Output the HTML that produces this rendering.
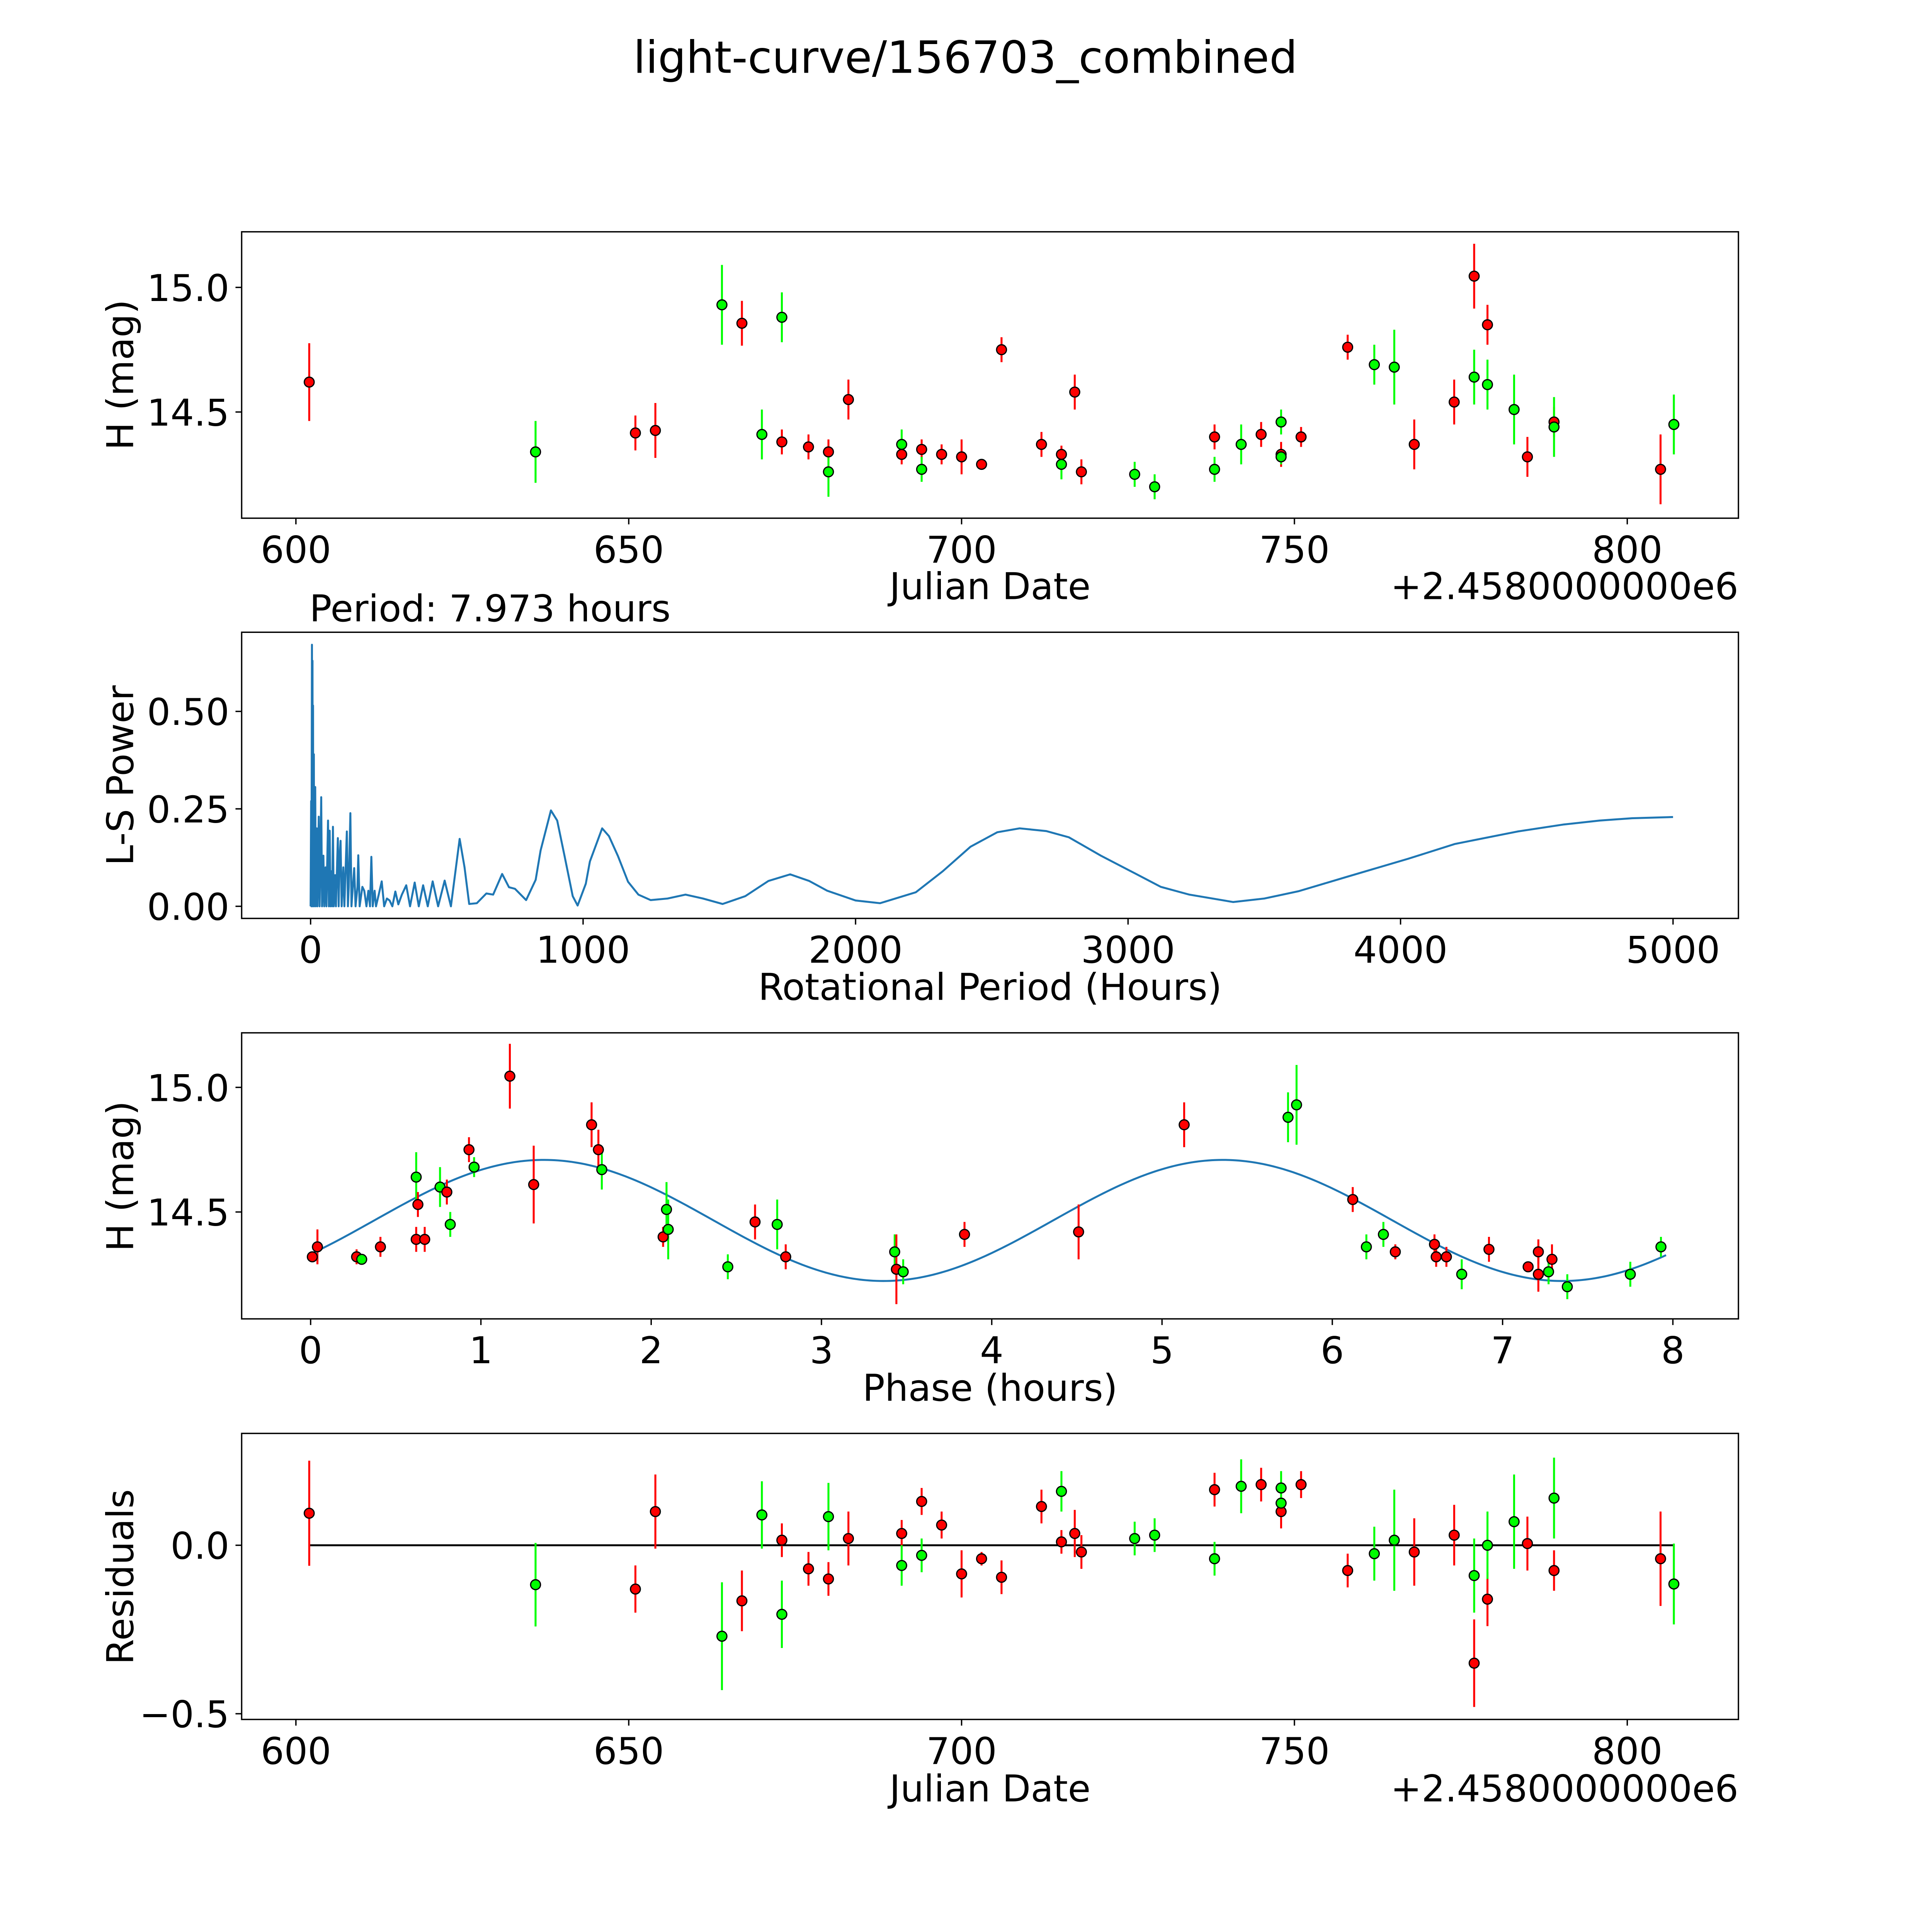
<!DOCTYPE html>
<html><head><meta charset="utf-8"><style>
html,body{margin:0;padding:0;background:#fff;overflow:hidden;width:100vw;height:100vh}
svg{display:block;width:100vw;height:100vh}
text{font-family:"DejaVu Sans","Liberation Sans",sans-serif;fill:#000}
</style></head><body>
<svg id="fig" xmlns="http://www.w3.org/2000/svg" viewBox="0 0 1567 1567" preserveAspectRatio="none">
<rect x="0" y="0" width="1567" height="1567" fill="#fff"/>
<text x="783" y="59" font-size="36" text-anchor="middle">light-curve/156703_combined</text>
</svg>
<script>
// ---- Panel 1 / 4 data (Julian Date offset, magnitude, error, filter colour, residual) ----
const jd   = [602,636,651,654,664,667,670,673,673,677,680,680,683,691,691,694,694,697,700,703,706,712,715,715,717,718,726,729,738,738,742,745,748,748,748,751,758,762,765,768,774,777,777,779,779,783,785,789,789,805,807];
const mag  = [14.62,14.34,14.416,14.426,14.93,14.856,14.41,14.38,14.88,14.36,14.34,14.26,14.55,14.33,14.37,14.35,14.27,14.33,14.32,14.29,14.75,14.37,14.33,14.29,14.58,14.26,14.25,14.20,14.40,14.27,14.37,14.41,14.33,14.46,14.32,14.40,14.76,14.69,14.68,14.37,14.54,15.045,14.64,14.85,14.61,14.51,14.32,14.46,14.44,14.27,14.45];
const magErr=[0.156,0.124,0.07,0.11,0.16,0.09,0.1,0.05,0.1,0.05,0.05,0.1,0.08,0.04,0.06,0.04,0.05,0.04,0.07,0.02,0.05,0.05,0.035,0.06,0.07,0.05,0.05,0.05,0.05,0.05,0.08,0.05,0.05,0.05,0.03,0.04,0.05,0.08,0.15,0.1,0.09,0.13,0.11,0.08,0.1,0.14,0.08,0.06,0.12,0.14,0.12];
const band = ['r','g','r','r','g','r','g','r','g','r','r','g','r','r','g','r','g','r','r','r','r','r','r','g','r','r','g','g','r','g','g','r','r','g','g','r','r','g','g','r','r','r','g','r','g','g','r','r','g','r','g'];
const resid= [0.095,-0.117,-0.13,0.1,-0.27,-0.165,0.09,0.015,-0.205,-0.07,-0.1,0.085,0.02,0.035,-0.06,0.13,-0.03,0.06,-0.085,-0.04,-0.095,0.115,0.01,0.16,0.035,-0.02,0.02,0.03,0.165,-0.04,0.175,0.18,0.1,0.17,0.125,0.18,-0.075,-0.025,0.015,-0.02,0.03,-0.35,-0.09,-0.16,0,0.07,0.005,-0.075,0.14,-0.04,-0.115];
// ---- Panel 3 (phase-folded) ----
const phase   = [0.01,0.04,0.27,0.30,0.41,0.62,0.63,0.62,0.67,0.76,0.80,0.82,0.93,0.96,1.17,1.31,1.65,1.69,1.71,2.07,2.09,2.10,2.45,2.61,2.74,2.79,3.43,3.44,3.48,3.84,4.51,5.13,5.74,5.79,6.12,6.20,6.30,6.37,6.60,6.61,6.67,6.76,6.92,7.15,7.21,7.21,7.27,7.29,7.38,7.75,7.93];
const phaseMag= [14.32,14.36,14.32,14.31,14.36,14.64,14.53,14.39,14.39,14.60,14.58,14.45,14.75,14.68,15.045,14.61,14.85,14.75,14.67,14.40,14.51,14.43,14.28,14.46,14.45,14.32,14.34,14.27,14.26,14.41,14.42,14.85,14.88,14.93,14.55,14.36,14.41,14.34,14.37,14.32,14.32,14.25,14.35,14.28,14.34,14.25,14.26,14.31,14.20,14.25,14.36];
const phaseErr= [0.02,0.07,0.03,0.02,0.04,0.1,0.05,0.05,0.05,0.08,0.05,0.05,0.05,0.04,0.13,0.156,0.09,0.08,0.08,0.04,0.11,0.12,0.05,0.07,0.1,0.05,0.07,0.14,0.05,0.05,0.11,0.09,0.1,0.16,0.05,0.05,0.05,0.03,0.04,0.04,0.04,0.06,0.05,0.02,0.05,0.07,0.05,0.06,0.05,0.05,0.04];
const phaseBand=['r','r','r','g','r','g','r','r','r','g','r','g','r','g','r','r','r','r','g','r','g','g','g','r','g','r','g','r','g','r','r','r','g','g','r','g','g','r','r','r','r','g','r','r','r','r','g','r','g','g','g'];
const modelMean=14.466, modelAmp=0.243, modelPeakPhase=1.37, modelPeriod=3.987;
// ---- Panel 2 (periodogram) ----
const lsPeriod=[0,2,3,5,6,7,8,9,10,12,13,17,19,23,25,30,33,36,39,42,47,50,55,58,64,67,70,73,76,79,82,85,90,93,100,103,106,110,114,120,124,133,137,140,146,150,155,160,165,172,175,180,190,197,205,212,218,223,228,235,240,250,261,270,280,290,300,311,322,335,351,365,382,397,413,430,448,468,492,515,547,565,582,610,645,670,703,728,750,791,826,844,882,905,932,962,980,1010,1025,1070,1095,1128,1165,1203,1248,1310,1376,1440,1512,1595,1680,1760,1830,1896,2000,2090,2221,2320,2422,2520,2602,2700,2783,2900,3024,3120,3225,3386,3500,3627,3800,4028,4200,4430,4600,4731,4850,5000];
const lsPower=[0,0.27,0,0.671,0.2,0.63,0,0.515,0.05,0.39,0,0.306,0,0.2,0,0.23,0,0.12,0.28,0,0.13,0,0.1,0,0.22,0,0.194,0,0.09,0,0.204,0,0.08,0,0.175,0,0.12,0.168,0,0.1,0,0.192,0,0.05,0.239,0,0.05,0.098,0,0.05,0.131,0,0.05,0.04,0,0.04,0,0.127,0,0.04,0,0.03,0.064,0,0.02,0.015,0,0.038,0.005,0.03,0.054,0,0.061,0,0.054,0,0.064,0,0.066,0,0.173,0.1,0.006,0.008,0.033,0.03,0.083,0.049,0.045,0.016,0.068,0.143,0.246,0.22,0.129,0.026,0.002,0.058,0.115,0.2,0.18,0.129,0.063,0.03,0.016,0.02,0.03,0.02,0.006,0.026,0.065,0.082,0.065,0.04,0.015,0.008,0.036,0.09,0.153,0.19,0.2,0.193,0.177,0.13,0.085,0.05,0.03,0.011,0.02,0.039,0.075,0.122,0.16,0.192,0.21,0.22,0.226,0.229];
const jdTicks=[600,650,700,750,800];
const jdTickLabels=['600','650','700','750','800'];
const magTicks=[14.5,15.0];
const magTickLabels=['14.5','15.0'];
const lsXTicks=[0,1000,2000,3000,4000,5000];
const lsXTickLabels=['0','1000','2000','3000','4000','5000'];
const lsYTicks=[0,0.25,0.5];
const lsYTickLabels=['0.00','0.25','0.50'];
const phTicks=[0,1,2,3,4,5,6,7,8];
const phTickLabels=['0','1','2','3','4','5','6','7','8'];
const resTicks=[-0.5,0.0];
const resTickLabels=['\u22120.5','0.0'];

const NS='http://www.w3.org/2000/svg';
const svg=document.getElementById('fig');
function mk(tag,attrs,parent){const e=document.createElementNS(NS,tag);for(const k in attrs)e.setAttribute(k,attrs[k]);(parent||svg).appendChild(e);return e;}
const L=196,R=1410;
const FS=30;
const COL={r:'#ff0000',g:'#00ff00'};
function makeAxes(name,top,bottom,x0,x1,y0,y1){
  const g=mk('g',{});
  
  
  const sx=v=>L+(v-x0)/(x1-x0)*(R-L);
  const sy=v=>bottom-(v-y0)/(y1-y0)*(bottom-top);
  return {g,sx,sy,top,bottom};
}
function frame(ax){
  const r=mk('rect',{x:L,y:ax.top,width:R-L,height:ax.bottom-ax.top,fill:'none',stroke:'#000','stroke-width':1.1},ax.g);
  
  
}
function xticks(ax,vals,labels,name){
  vals.forEach((v,i)=>{
    const x=ax.sx(v);
    mk('line',{x1:x,x2:x,y1:ax.bottom,y2:ax.bottom+5,stroke:'#000','stroke-width':1.1},ax.g);
    const t=mk('text',{x:x,y:ax.bottom+36,'font-size':FS,'text-anchor':'middle'},ax.g);
    t.textContent=labels[i];
    
    
  });
}
function yticks(ax,vals,labels,name){
  vals.forEach((v,i)=>{
    const y=ax.sy(v);
    mk('line',{x1:L-5,x2:L,y1:y,y2:y,stroke:'#000','stroke-width':1.1},ax.g);
    const t=mk('text',{x:L-10,y:y+11,'font-size':FS,'text-anchor':'end'},ax.g);
    t.textContent=labels[i];
    
    
  });
}
function label(ax,txt,x,y,rot,name,anchor){
  const t=mk('text',{x:x,y:y,'font-size':FS,'text-anchor':anchor||'middle'},ax.g);
  if(rot)t.setAttribute('transform','rotate(-90 '+x+' '+y+')');
  t.textContent=txt;
  
  
}
function errpoints(ax,xs,ys,es,cs,name){
  xs.forEach((xv,i)=>{
    const x=ax.sx(xv);
    const b=mk('line',{x1:x,x2:x,y1:ax.sy(ys[i]-es[i]),y2:ax.sy(ys[i]+es[i]),stroke:COL[cs[i]],'stroke-width':1.6},ax.g);
    
    
  });
  xs.forEach((xv,i)=>{
    const c=mk('circle',{cx:ax.sx(xv),cy:ax.sy(ys[i]),r:4,fill:COL[cs[i]],stroke:'#000','stroke-width':1},ax.g);
    
    
  });
}

// Panel 1
const a1=makeAxes('light-curve-panel',188,420.3,591.85,816.7,14.074,15.223);
frame(a1);
errpoints(a1,jd,mag,magErr,band,'magnitude');
xticks(a1,jdTicks,jdTickLabels,'x-tick-label');
yticks(a1,magTicks,magTickLabels,'y-tick-label');
label(a1,'Julian Date',803,486,false,'x-axis-title');
label(a1,'+2.4580000000e6',1410,486,false,'x-offset-text','end');
label(a1,'H (mag)',108,304,true,'y-axis-title');

// Panel 2
const a2=makeAxes('periodogram-panel',512.8,744.9,-253,5240,-0.031,0.703);
frame(a2);
let d='';
lsPeriod.forEach((p,i)=>{d+=(i?'L':'M')+a2.sx(p).toFixed(2)+' '+a2.sy(lsPower[i]).toFixed(2);});
const pl=mk('path',{d:d,fill:'none',stroke:'#1f77b4','stroke-width':1.6,'stroke-linejoin':'round'},a2.g);


xticks(a2,lsXTicks,lsXTickLabels,'x-tick-label');
yticks(a2,lsYTicks,lsYTickLabels,'y-tick-label');
label(a2,'Rotational Period (Hours)',803,811,false,'x-axis-title');
label(a2,'L-S Power',108,629,true,'y-axis-title');
label(a2,'Period: 7.973 hours',251,504,false,'panel-title','start');

// Panel 3
const a3=makeAxes('phase-panel',837.7,1069.7,-0.405,8.385,14.071,15.219);
frame(a3);
let dm='';
for(let i=0;i<=400;i++){const ph=i/400*7.96;const m=modelMean+modelAmp*Math.cos(2*Math.PI*(ph-modelPeakPhase)/modelPeriod);dm+=(i?'L':'M')+a3.sx(ph).toFixed(2)+' '+a3.sy(m).toFixed(2);}
const ml=mk('path',{d:dm,fill:'none',stroke:'#1f77b4','stroke-width':1.6},a3.g);


errpoints(a3,phase,phaseMag,phaseErr,phaseBand,'phase');
xticks(a3,phTicks,phTickLabels,'x-tick-label');
yticks(a3,magTicks,magTickLabels,'y-tick-label');
label(a3,'Phase (hours)',803,1136,false,'x-axis-title');
label(a3,'H (mag)',108,954,true,'y-axis-title');

// Panel 4
const a4=makeAxes('residuals-panel',1162.6,1394.6,591.85,816.7,-0.517,0.332);
frame(a4);
const zl=mk('line',{x1:a4.sx(602),x2:a4.sx(807),y1:a4.sy(0),y2:a4.sy(0),stroke:'#000','stroke-width':1.6},a4.g);


errpoints(a4,jd,resid,magErr,band,'residual');
xticks(a4,jdTicks,jdTickLabels,'x-tick-label');
yticks(a4,resTicks,resTickLabels,'y-tick-label');
label(a4,'Julian Date',803,1461,false,'x-axis-title');
label(a4,'+2.4580000000e6',1410,1461,false,'x-offset-text','end');
label(a4,'Residuals',108,1279,true,'y-axis-title');
</script>
</body></html>
